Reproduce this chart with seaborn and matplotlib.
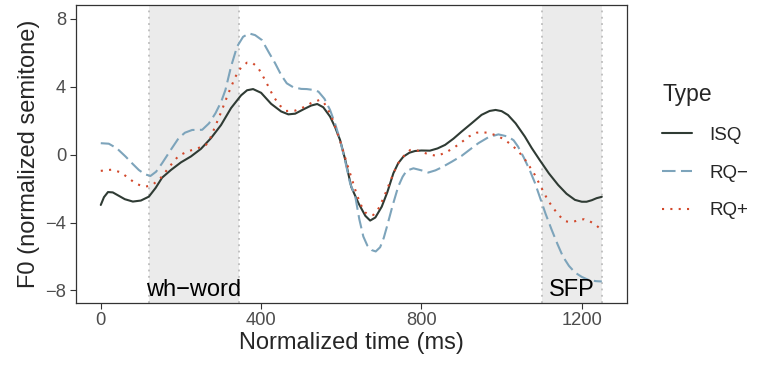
import matplotlib
matplotlib.use("Agg")
import matplotlib.pyplot as plt
import seaborn as sns
import pandas as pd

# 数据
isq_t = [0, 8, 18, 30, 45, 60, 80, 100, 120, 137, 153, 175, 200, 225, 250, 275,
         300, 325, 350, 365, 380, 400, 425, 450, 468, 485, 506, 525, 540, 555,
         572, 585, 597, 610, 625, 643, 660, 672, 685, 701, 715, 730, 742, 755,
         770, 784, 800, 821, 840, 859, 880, 900, 925, 950, 970, 985, 1000, 1016,
         1035, 1058, 1075, 1095, 1118, 1141, 1162, 1183, 1200, 1212, 1225, 1237,
         1250]
isq_v = [-2.96, -2.5, -2.2, -2.22, -2.42, -2.62, -2.76, -2.7, -2.47, -1.95,
         -1.35, -0.9, -0.45, -0.1, 0.35, 0.98, 1.75, 2.75, 3.5, 3.8, 3.87, 3.65,
         3.0, 2.55, 2.38, 2.42, 2.68, 2.9, 2.99, 2.8, 2.25, 1.6, 0.87, -0.31,
         -1.9, -2.86, -3.6, -3.88, -3.7, -3.06, -2.2, -1.09, -0.5, -0.11, 0.12,
         0.22, 0.25, 0.24, 0.37, 0.58, 0.95, 1.36, 1.85, 2.35, 2.58, 2.64, 2.57,
         2.34, 1.85, 1.07, 0.4, -0.31, -1.1, -1.78, -2.3, -2.66, -2.77, -2.77,
         -2.68, -2.56, -2.48]

rqm_t = [0, 20, 40, 62, 80, 95, 110, 124, 138, 153, 175, 194, 210, 228, 253,
         270, 286, 300, 311, 325, 340, 355, 370, 385, 402, 420, 435, 450, 464,
         480, 500, 514, 530, 543, 558, 572, 585, 597, 610, 622, 635, 645, 655,
         665, 676, 686, 697, 706, 714, 728, 742, 753, 763, 780, 800, 817, 835,
         851, 875, 900, 925, 942, 967, 992, 1016, 1030, 1041, 1055, 1070, 1083,
         1095, 1110, 1125, 1140, 1153, 1168, 1183, 1200, 1216, 1235, 1250]
rqm_v = [0.68, 0.65, 0.38, -0.11, -0.55, -0.9, -1.15, -1.25, -1.0, -0.5, 0.3,
         0.97, 1.3, 1.46, 1.47, 1.85, 2.44, 3.1, 3.82, 5.2, 6.37, 6.95, 7.15,
         7.05, 6.76, 6.0, 5.39, 4.7, 4.21, 3.98, 3.88, 3.87, 3.82, 3.72, 3.3,
         2.64, 1.8, 0.87, -0.4, -1.68, -2.47, -3.8, -4.82, -5.35, -5.62, -5.7,
         -5.45, -4.9, -4.23, -3.0, -1.88, -1.3, -0.94, -0.8, -0.92, -1.05,
         -0.92, -0.74, -0.42, -0.07, 0.38, 0.68, 1.03, 1.2, 1.07, 0.85, 0.48,
         -0.15, -0.9, -1.65, -2.47, -3.5, -4.43, -5.3, -6.0, -6.55, -6.94, -7.2,
         -7.37, -7.45, -7.47]

rqp_t = [0, 27, 49, 68, 86, 100, 111, 122, 132, 150, 165, 180, 194, 215, 236,
         250, 261, 273, 286, 300, 318, 336, 350, 365, 378, 392, 410, 431, 447,
         462, 485, 506, 525, 546, 556, 566, 578, 589, 600, 610, 618, 628, 639,
         650, 659, 670, 680, 695, 708, 722, 732, 742, 757, 772, 783, 794, 815,
         838, 858, 879, 898, 918, 938, 950, 963, 986, 1005, 1025, 1042, 1058,
         1070, 1083, 1094, 1104, 1116, 1129, 1144, 1159, 1172, 1183, 1195, 1206,
         1218, 1228, 1238, 1250]
rqp_v = [-0.95, -0.88, -1.03, -1.35, -1.68, -1.82, -1.88, -1.83, -1.72, -1.35,
         -0.9, -0.45, -0.07, 0.18, 0.34, 0.45, 0.52, 0.97, 1.7, 2.5, 3.6, 4.6,
         5.15, 5.43, 5.42, 5.15, 4.4, 3.42, 2.9, 2.58, 2.6, 2.8, 3.05, 3.23,
         3.1, 2.7, 2.1, 1.36, 0.6, -0.2, -0.8, -1.55, -2.37, -3.0, -3.39, -3.55,
         -3.55, -3.1, -2.4, -1.58, -1.0, -0.5, -0.05, 0.28, 0.3, 0.22, 0.05,
         -0.07, 0.1, 0.38, 0.7, 1.07, 1.3, 1.33, 1.3, 1.15, 0.92, 0.58, 0.2,
         -0.27, -0.7, -1.19, -1.7, -2.17, -2.7, -3.15, -3.6, -3.92, -3.97, -3.92,
         -3.83, -3.8, -3.9, -4.03, -4.2, -4.45]

types = ["ISQ", "RQ\u2212", "RQ+"]
regions = [(120, 345, "wh\u2212word"), (1100, 1250, "SFP")]
y_ticks = [-8, -4, 0, 4, 8]
x_ticks = [0, 400, 800, 1200]

df = pd.concat([
    pd.DataFrame({"time": t, "f0": v, "Type": name})
    for name, t, v in zip(types, [isq_t, rqm_t, rqp_t], [isq_v, rqm_v, rqp_v])
])

sns.set_style("white")
plt.rcParams["font.family"] = ["Liberation Sans", "DejaVu Sans"]

fig = plt.figure(figsize=(7.58, 3.65), dpi=100)
ax = fig.add_axes([0.0999, 0.1707, 0.7271, 0.8163])

# 阴影区域
for x0, x1, label in regions:
    ax.axvspan(x0, x1, color="#EBEBEB", lw=0, zorder=0)
    for xv in (x0, x1):
        ax.axvline(xv, color="#BDBDBD", lw=1.3, ls=(0, (1, 2.5)), zorder=1)
    ax.text((x0 + x1) / 2, -8, label, ha="center", va="center",
            fontsize=17, color="black", zorder=5)

palette = {"ISQ": "#2F3B34", "RQ\u2212": "#7DA4BB", "RQ+": "#D2482B"}
dashes = {"ISQ": "", "RQ\u2212": (6.5, 2.6), "RQ+": (1, 3)}
sns.lineplot(data=df, x="time", y="f0", hue="Type", style="Type",
             hue_order=types, style_order=types, palette=palette,
             dashes=dashes, linewidth=1.5, ax=ax, zorder=3, sort=True)
for line in ax.get_lines()[-3:]:
    line.set_solid_joinstyle("round")

ax.set_xlim(-62.5, 1312.5)
ax.set_ylim(-8.72, 8.84)
ax.set_xticks(x_ticks)
ax.set_yticks(y_ticks)
ax.tick_params(axis="both", direction="out", length=4, width=0.8,
               color="#333333", labelsize=13.2, labelcolor="#4D4D4D",
               left=True, bottom=True, pad=3)
for s in ax.spines.values():
    s.set_color("#333333")
    s.set_linewidth(0.9)
ax.set_xlabel("Normalized time (ms)", fontsize=17, labelpad=2)
ax.set_ylabel("F0 (normalized semitone)", fontsize=17, labelpad=4)

sns.move_legend(ax, "center left", bbox_to_anchor=(1.034, 0.508), frameon=False,
                title="Type", fontsize=13.5, title_fontsize=16.5,
                handlelength=1.6, labelspacing=1.1, handletextpad=0.9)
leg = ax.get_legend()
leg._legend_box.align = "left"
for line in leg.get_lines():
    line.set_linewidth(1.5)

fig.savefig("out.png", dpi=100)
